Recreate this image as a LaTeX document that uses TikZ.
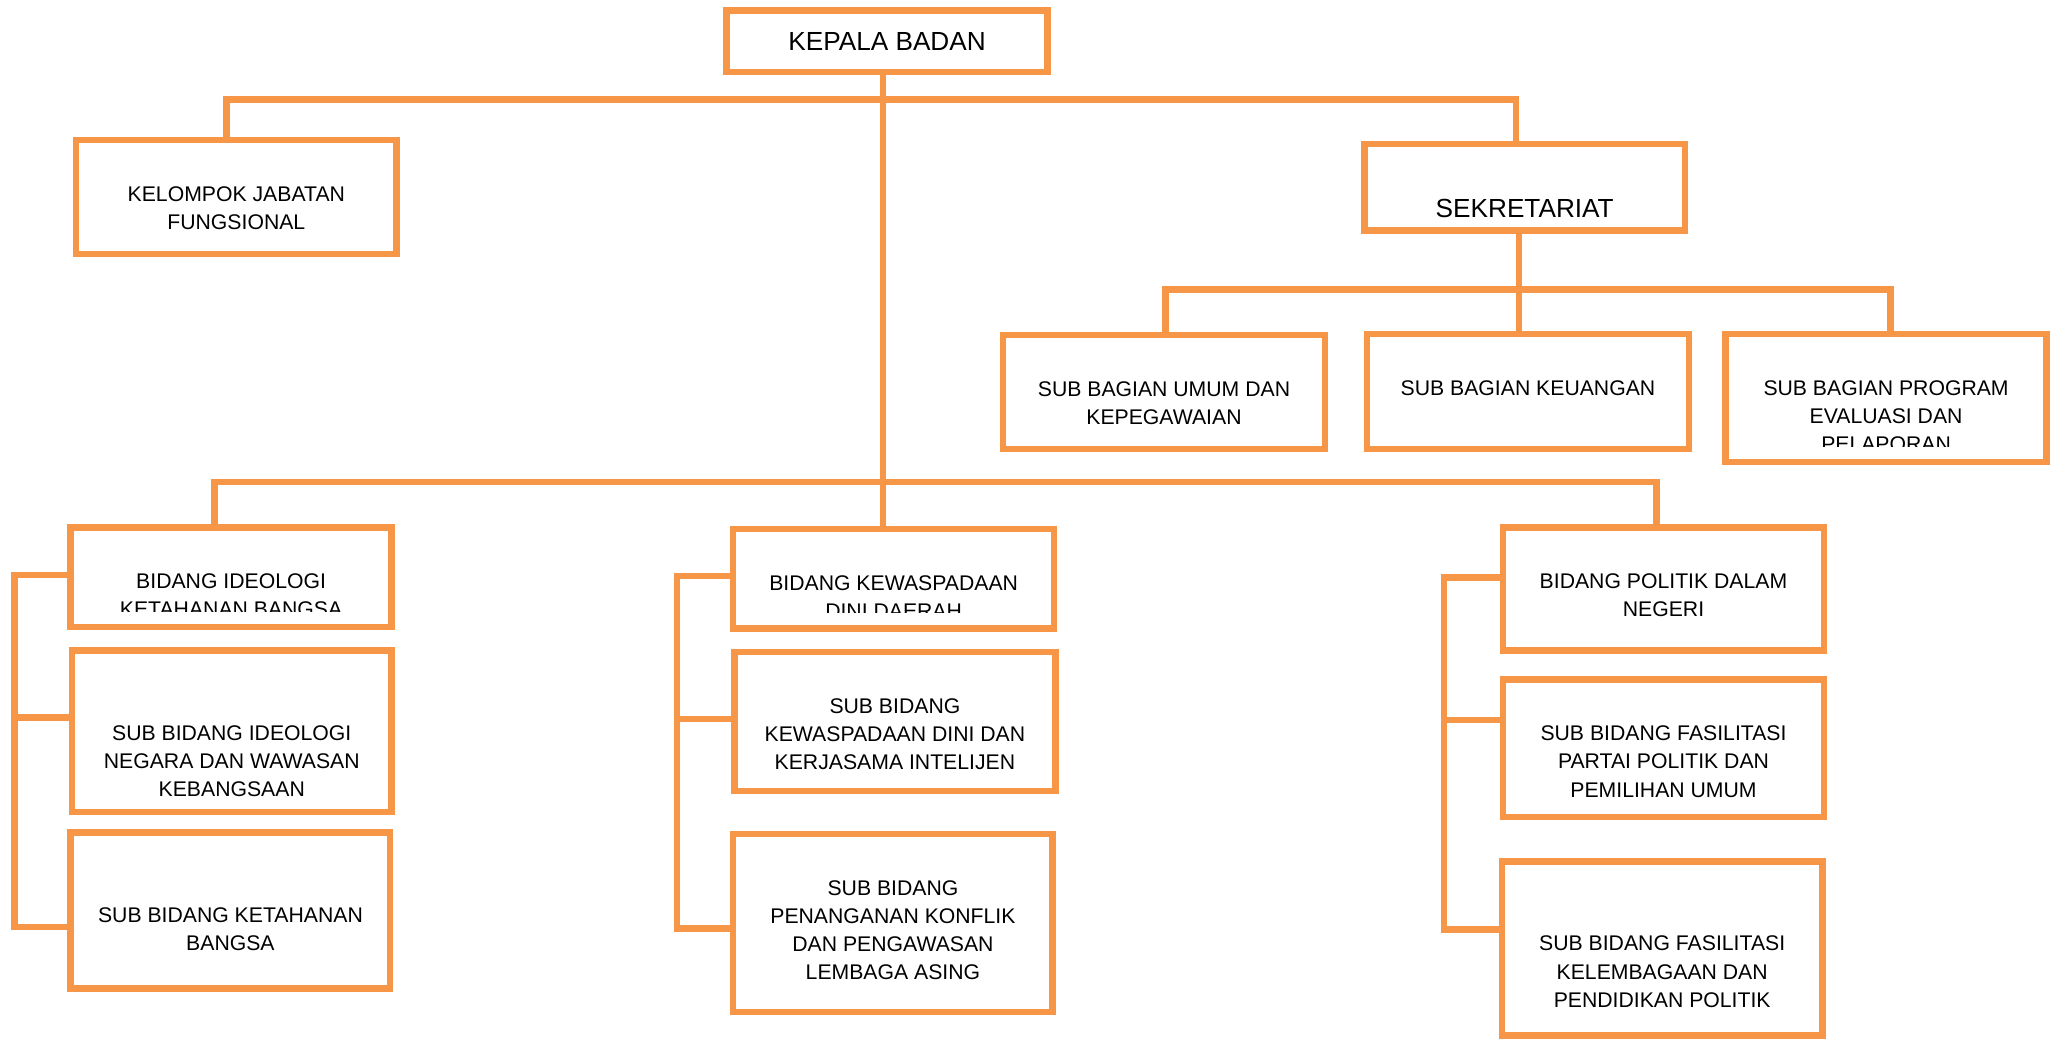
\documentclass[tikz,border=0pt]{standalone}
\usepackage{fontspec}
\setmainfont{Liberation Sans}
\usetikzlibrary{calc}
\newcommand{\lineWidth}{5pt}
\newcommand{\firstLine}{35.2pt}
\newcommand{\secondLine}{56.7pt}
\newcommand{\clipPad}{12pt}
\definecolor{lineColor}{RGB}{247,150,70}
\tikzstyle{box}=[draw=lineColor, line width=\lineWidth, inner sep=0, outer sep=0, anchor=north west]
\tikzstyle{line}=[draw=lineColor, line width=\lineWidth]
\tikzstyle{textNode}=[inner sep=0, align=center, anchor=north, font=\fontsize{16.2pt}{21.5pt}\selectfont]
\tikzstyle{bigText}=[font=\fontsize{20pt}{24pt}\selectfont]

\begin{document}
\begin{tikzpicture}[x=1pt, y=-1pt]

% Frame
\path[fill=white] (0,0) rectangle (1568,795);

% Top level
\node[box, bigText, minimum width=245pt, minimum height=47pt] (kepala) at (555,8) {KEPALA BADAN};
\node[box, minimum width=245pt, minimum height=87pt] (kelompok) at (58,107) {};
\node[textNode] (kelompokText) at ([yshift=-\firstLine]kelompok.north) {KELOMPOK JABATAN\\FUNGSIONAL};
\node[box, minimum width=245pt, minimum height=66pt] (sekretariat) at (1042,110) {};
\node[textNode, bigText] (sekretariatText) at ([yshift=-41.8pt]sekretariat.north) {SEKRETARIAT};

% Sub bagian
\node[box, minimum width=246pt, minimum height=87pt] (umum) at (766,256) {};
\node[textNode] (umumText) at ([yshift=-\firstLine]umum.north) {SUB BAGIAN UMUM DAN\\KEPEGAWAIAN};
\node[box, minimum width=246pt, minimum height=88pt] (keuangan) at (1044,255) {};
\node[textNode] (keuanganText) at ([yshift=-\firstLine]keuangan.north) {SUB BAGIAN KEUANGAN};
\node[box, minimum width=245pt, minimum height=98pt] (program) at (1318,255) {};
\begin{scope}
  \clip (program.north west) rectangle ([yshift=\clipPad]program.south east);
  \node[textNode] (programText) at ([yshift=-\firstLine]program.north) {SUB BAGIAN PROGRAM\\EVALUASI DAN\\PELAPORAN};
\end{scope}

% Bidang ideologi
\node[box, minimum width=245pt, minimum height=76pt] (ideologi) at (54,403) {};
\begin{scope}
  \clip (ideologi.north west) rectangle ([yshift=\clipPad]ideologi.south east);
  \node[textNode] (ideologiText) at ([yshift=-\firstLine]ideologi.north) {BIDANG IDEOLOGI\\KETAHANAN BANGSA};
\end{scope}
\node[box, minimum width=244pt, minimum height=123pt] (subIdeologi) at (55,497) {};
\node[textNode] (subIdeologiText) at ([yshift=-\secondLine]subIdeologi.north) {SUB BIDANG IDEOLOGI\\NEGARA DAN WAWASAN\\KEBANGSAAN};
\node[box, minimum width=244pt, minimum height=119pt] (ketahanan) at (54,636) {};
\node[textNode] (ketahananText) at ([yshift=-\secondLine]ketahanan.north) {SUB BIDANG KETAHANAN\\BANGSA};

% Bidang kewaspadaan
\node[box, minimum width=245pt, minimum height=76pt] (kewaspadaan) at (560,404) {};
\begin{scope}
  \clip (kewaspadaan.north west) rectangle ([yshift=\clipPad]kewaspadaan.south east);
  \node[textNode] (kewaspadaanText) at ([yshift=-\firstLine]kewaspadaan.north) {BIDANG KEWASPADAAN\\DINI DAERAH};
\end{scope}
\node[box, minimum width=245pt, minimum height=106pt] (subKewaspadaan) at (561,498) {};
\node[textNode] (subKewaspadaanText) at ([yshift=-\firstLine]subKewaspadaan.north) {SUB BIDANG\\KEWASPADAAN DINI DAN\\KERJASAMA INTELIJEN};
\node[box, minimum width=244pt, minimum height=136pt] (penanganan) at (560,637) {};
\node[textNode] (penangananText) at ([yshift=-\firstLine]penanganan.north) {SUB BIDANG\\PENANGANAN KONFLIK\\DAN PENGAWASAN\\LEMBAGA ASING};

% Bidang politik
\node[box, minimum width=245pt, minimum height=94pt] (politik) at (1148,403) {};
\node[textNode] (politikText) at ([yshift=-\firstLine]politik.north) {BIDANG POLITIK DALAM\\NEGERI};
\node[box, minimum width=245pt, minimum height=105pt] (partai) at (1148,519) {};
\node[textNode] (partaiText) at ([yshift=-\firstLine]partai.north) {SUB BIDANG FASILITASI\\PARTAI POLITIK DAN\\PEMILIHAN UMUM};
\node[box, minimum width=245pt, minimum height=133pt] (kelembagaan) at (1147,658) {};
\node[textNode] (kelembagaanText) at ([yshift=-\secondLine]kelembagaan.north) {SUB BIDANG FASILITASI\\KELEMBAGAAN DAN\\PENDIDIKAN POLITIK};

% Useful coordinates
\coordinate (mainStem) at ([xshift=-3pt]kepala.south);
\coordinate (topBusL) at (173,76);
\coordinate (topBusR) at (1158,76);
\coordinate (secStem) at (1160,221);
\coordinate (secBusL) at (890,221);
\coordinate (secBusR) at (1444,221);
\coordinate (botBusL) at (164,368);
\coordinate (botBusR) at (1265,368);

% Connectors
\draw[line] (mainStem) -- (mainStem |- kewaspadaan.north);
\draw[line] (topBusL |- kelompok.north) -- (topBusL) -- (topBusR) -- (topBusR |- sekretariat.north);
\draw[line] (secStem |- sekretariat.south) -- (secStem |- keuangan.north);
\draw[line] (secBusL |- umum.north) -- (secBusL) -- (secBusR) -- (secBusR |- program.north);
\draw[line] (botBusL |- ideologi.north) -- (botBusL) -- (botBusR) -- (botBusR |- politik.north);

% Brackets
\foreach \side/\x/\y/\first/\mid/\last in {L/11/439/ideologi/subIdeologi/ketahanan,
    M/517/440/kewaspadaan/subKewaspadaan/penanganan,
    R/1103/441/politik/partai/kelembagaan} {
  \coordinate (br\side1) at (\x,\y);
  \coordinate (br\side2) at (\x,\y+109);
  \coordinate (br\side3) at (\x,\y+269);
  \draw[line] (br\side1 -| \first.west) -- (br\side1) -- (br\side3) -- (br\side3 -| \last.west);
  \draw[line] (br\side2) -- (br\side2 -| \mid.west);
}

\end{tikzpicture}
\end{document}
